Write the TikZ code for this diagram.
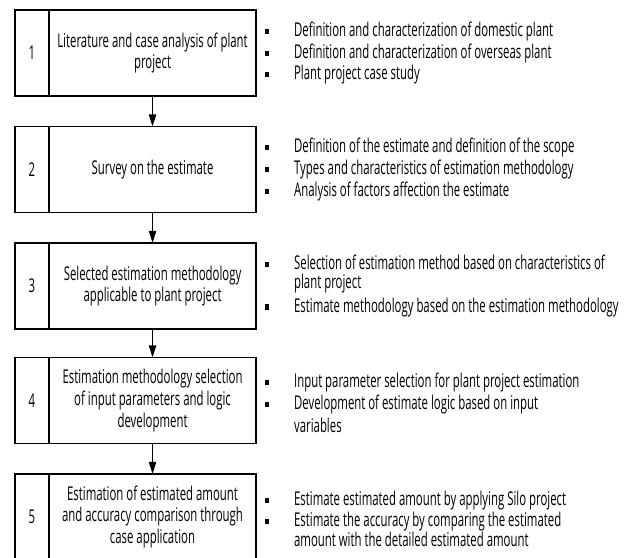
\documentclass[tikz,border=0pt]{standalone}
\usepackage{fontspec}
\setmainfont{Open Sans}[FakeStretch=0.6]
\usetikzlibrary{arrows.meta, positioning}

\newcommand{\sqmark}{\rule[0.25ex]{2.8pt}{3.6pt}}
\newcommand{\itm}[1]{\makebox[20.5pt][l]{\sqmark}#1}
\newcommand{\cnt}[1]{\hspace*{20.5pt}#1}

\begin{document}
\begin{tikzpicture}[
  x=0.025cm, y=-0.025cm,
  numcell/.style={draw, line width=1.2pt, minimum width=0.85cm, minimum height=2.15cm,
                  inner sep=0pt, outer sep=0pt, font=\fontsize{13.5}{15}\selectfont},
  stepcell/.style={draw, line width=1.2pt, minimum width=5.175cm, minimum height=2.15cm,
                   inner sep=0pt, outer sep=0pt, align=center,
                   font=\fontsize{13.5}{15.5}\selectfont},
  note/.style={anchor=west, align=left, inner sep=0pt, font=\fontsize{13.5}{13.5}\selectfont},
  arr/.style={-{Triangle[length=3mm, width=1.8mm]}, line width=0.9pt}
]
  \clip (0,0) rectangle (632,558);
  \useasboundingbox (0,0) rectangle (632,558);

  % steps
  \node[numcell] (n1) at (32, 53)    {1};
  \node[stepcell, right=0pt of n1] (s1) {Literature and case analysis of plant\\project};
  \node[numcell] (n2) at (32, 169.5) {2};
  \node[stepcell, right=0pt of n2] (s2) {Survey on the estimate};
  \node[numcell] (n3) at (32, 286)   {3};
  \node[stepcell, right=0pt of n3] (s3) {Selected estimation methodology\\applicable to plant project};
  \node[numcell] (n4) at (32, 400.5) {4};
  \node[stepcell, right=0pt of n4] (s4) {Estimation methodology selection\\of input parameters and logic\\development};
  \node[numcell] (n5) at (32, 517)   {5};
  \node[stepcell, right=0pt of n5] (s5) {Estimation of estimated amount\\and accuracy comparison through\\case application};

  % notes
  \node[note] (d1) at (265, 53) {\itm{Definition and characterization of domestic plant}\\[1pt]
    \itm{Definition and characterization of overseas plant}\\[1pt]
    \itm{Plant project case study}};
  \node[note] (d2) at (265, 169.5) {\itm{Definition of the estimate and definition of the scope}\\[1pt]
    \itm{Types and characteristics of estimation methodology}\\[1pt]
    \itm{Analysis of factors affection the estimate}};
  \node[note] (d3) at (265, 286) {\itm{Selection of estimation method based on characteristics of}\\
    \cnt{plant project}\\[3pt]
    \itm{Estimate methodology based on the estimation methodology}};
  \node[note] (d4) at (265, 403) {\itm{Input parameter selection for plant project estimation}\\[1pt]
    \itm{Development of estimate logic based on input}\\[3pt]
    \cnt{variables}};
  \node[note] (d5) at (265, 519) {\itm{Estimate estimated amount by applying Silo project}\\[1pt]
    \itm{Estimate the accuracy by comparing the estimated}\\[1pt]
    \cnt{amount with the detailed estimated amount}};

  % flow
  \draw[arr] (s1) -- (s2);
  \draw[arr] (s2) -- (s3);
  \draw[arr] (s3) -- (s4);
  \draw[arr] (s4) -- (s5);
\end{tikzpicture}
\end{document}
